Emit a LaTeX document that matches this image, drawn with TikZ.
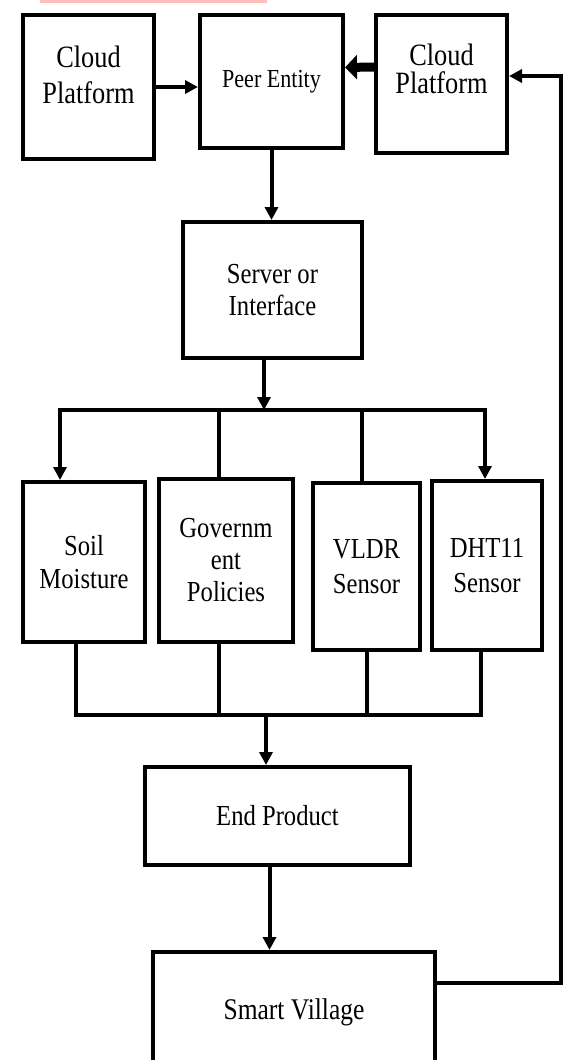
\documentclass[tikz,border=0pt]{standalone}
\usepackage{fontspec}
\setmainfont[FakeStretch=0.85]{Liberation Serif}
\usetikzlibrary{arrows.meta}

\begin{document}
\begin{tikzpicture}[x=1pt, y=-1pt,
        box/.style={rectangle, draw, line width=4pt, align=center, inner sep=0pt, font=\fontsize{29}{33}\selectfont},
        arr/.style={line width=4pt, -{Triangle[length=13pt, width=13pt]}},
        wire/.style={line width=4pt}]
    \clip (0,0) rectangle (565,1060);
    \fill[red!25] (40,0) rectangle (267,3);
    \node[box, minimum width=131pt, minimum height=144pt, text depth=24pt, font=\fontsize{31}{36}\selectfont] (cloudA) at (88.5,87) {Cloud\\Platform};
    \node[box, minimum width=143pt, minimum height=133pt, font=\fontsize{26}{30}\selectfont] (peer) at (271.5,81.5) {Peer Entity};
    \node[box, minimum width=131pt, minimum height=138pt, text depth=30pt, font=\fontsize{31}{28}\selectfont] (cloudB) at (441.5,84) {Cloud\\Platform};
    \draw[arr] (cloudA.east) -- (cloudA.east -| peer.west);
    \draw[line width=9pt, -{Triangle[length=12pt, width=24pt]}] ([yshift=17pt]cloudB.west) -- ([yshift=14pt]peer.east);
    \node[box, minimum width=179pt, minimum height=136pt, font=\fontsize{29}{32}\selectfont] (server) at (272.5,290) {Server or\\Interface};
    \draw[arr] (peer.south) -- (peer.south |- server.north);
    % sensor row
    \node[box, minimum width=122pt, minimum height=160pt] (soil) at (84,562) {Soil\\Moisture};
    \node[box, minimum width=134pt, minimum height=163pt, font=\fontsize{29}{32}\selectfont] (gov) at (226,560.5) {Governm\\ent\\Policies};
    \node[box, minimum width=107pt, minimum height=167pt, font=\fontsize{29}{35}\selectfont] (vldr) at (366.5,566.5) {VLDR\\Sensor};
    \node[box, minimum width=110pt, minimum height=169pt, font=\fontsize{29}{35}\selectfont] (dht) at (487,565.5) {DHT11\\Sensor};
    \coordinate (split) at (264,410);
    \coordinate (busL) at (60,410);
    \coordinate (busR) at (485,410);
    \draw[arr] (server.south -| split) -- (split);
    \draw[line width=4pt, {Triangle[length=13pt, width=13pt]}-{Triangle[length=13pt, width=13pt]}] (busL |- soil.north) -- (busL) -- (busR) -- (busR |- dht.north);
    \draw[wire] (gov.north) ++(-7,0) coordinate (govIn) -- (govIn |- busL);
    \draw[wire] (vldr.north) ++(-4.5,0) coordinate (vldrIn) -- (vldrIn |- busL);
    % join below the sensors
    \node[box, minimum width=265pt, minimum height=98pt] (endp) at (277.5,816) {End Product};
    \coordinate (joinL) at (76,715);
    \coordinate (joinR) at (481,715);
    \coordinate (join) at (266,715);
    \draw[wire] (joinL |- soil.south) -- (joinL) -- (joinR) -- (joinR |- dht.south);
    \draw[wire] (gov.south) ++(-7,0) coordinate (govOut) -- (govOut |- joinL);
    \draw[wire] (vldr.south) -- (vldr.south |- joinL);
    \draw[arr] (join) -- (join |- endp.north);
    \node[box, minimum width=282pt, minimum height=120pt, font=\fontsize{30}{34}\selectfont] (village) at (294,1012) {Smart Village};
    \draw[arr] (endp.south) ++(-8,0) coordinate (endOut) -- (endOut |- village.north);
    \draw[arr] ([yshift=29pt]village.east) -| ([xshift=52pt, yshift=8pt]cloudB.east) -- ([yshift=8pt]cloudB.east);
\end{tikzpicture}
\end{document}
